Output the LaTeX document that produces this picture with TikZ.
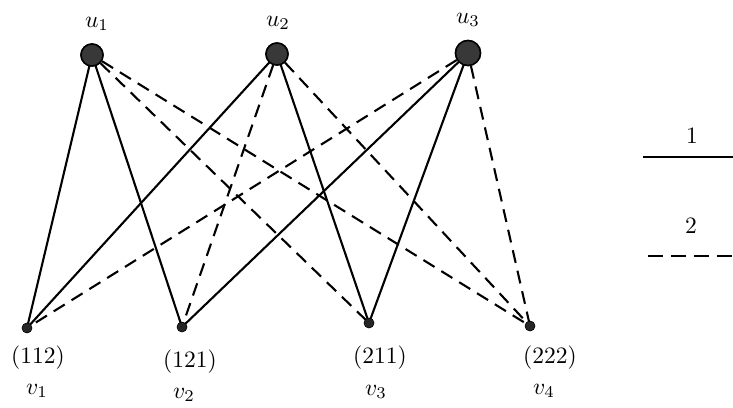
\documentclass[tikz,border=0pt]{standalone}
\begin{document}
\begin{tikzpicture}[x=1pt,y=-1pt,
  unode/.style={circle,fill=black!78,draw=black,line width=1.5pt,inner sep=0pt,minimum size=22pt},
  vnode/.style={circle,fill=black!85,draw=black,inner sep=0pt,minimum size=10pt},
  lbl/.style={inner sep=0pt},
  edge/.style={line width=2.1pt},
  dedge/.style={line width=2.1pt,dash pattern=on 13pt off 8pt}]
\newcommand{\bigtxt}[1]{\scalebox{2.35}{#1}}
\useasboundingbox (0,0) rectangle (733,407);
% vertices
\node[unode] (u1) at (92,55) {};
\node[unode] (u2) at (277,54) {};
\node[unode,minimum size=25pt] (u3) at (468,53) {};
\node[vnode] (v1) at (27,328) {};
\node[vnode] (v2) at (182,327) {};
\node[vnode] (v3) at (369,323) {};
\node[vnode] (v4) at (530,326) {};
% labels
\node[lbl] (lu1) at (97,24) {\bigtxt{$u_1$}};
\node[lbl] (lu2) at (278,23) {\bigtxt{$u_2$}};
\node[lbl] (lu3) at (468,20) {\bigtxt{$u_3$}};
\node[lbl] (t1) at (38,358) {\bigtxt{$(112)$}};
\node[lbl] (t2) at (190,362) {\bigtxt{$(121)$}};
\node[lbl] (t3) at (380,358) {\bigtxt{$(211)$}};
\node[lbl] (t4) at (550,358) {\bigtxt{$(222)$}};
\node[lbl] (lv1) at (37,391) {\bigtxt{$v_1$}};
\node[lbl] (lv2) at (184,395) {\bigtxt{$v_2$}};
\node[lbl] (lv3) at (376,392) {\bigtxt{$v_3$}};
\node[lbl] (lv4) at (544,391) {\bigtxt{$v_4$}};
% edges
\draw[edge] (u1.center) -- (v1.center);
\draw[edge] (u1.center) -- (v2.center);
\draw[dedge] (u1) -- (v3.center);
\draw[dedge] (u1) -- (v4.center);
\draw[edge] (u2.center) -- (v1.center);
\draw[dedge] (u2) -- (v2.center);
\draw[edge] (u2.center) -- (v3.center);
\draw[dedge] (u2) -- (v4.center);
\draw[dedge] (u3) -- (v1.center);
\draw[edge] (u3.center) -- (v2.center);
\draw[edge] (u3.center) -- (v3.center);
\draw[dedge] (u3) -- (v4.center);
% redraw vertices on top
\node[unode] at (u1) {};
\node[unode] at (u2) {};
\node[unode,minimum size=25pt] at (u3) {};
\node[vnode] at (v1) {};
\node[vnode] at (v2) {};
\node[vnode] at (v3) {};
\node[vnode] at (v4) {};
% legend
\node[lbl] (k1) at (692,136) {\bigtxt{$1$}};
\coordinate (k1a) at (643,157);
\coordinate (k1b) at (733,157);
\draw[edge] (k1a) -- (k1b);
\node[lbl] (k2) at (691,226) {\bigtxt{$2$}};
\coordinate (k2a) at (648,256);
\coordinate (k2b) at (733,256);
\draw[line width=2.1pt,dash pattern=on 15pt off 8pt] (k2a) -- (k2b);
\end{tikzpicture}
\end{document}
